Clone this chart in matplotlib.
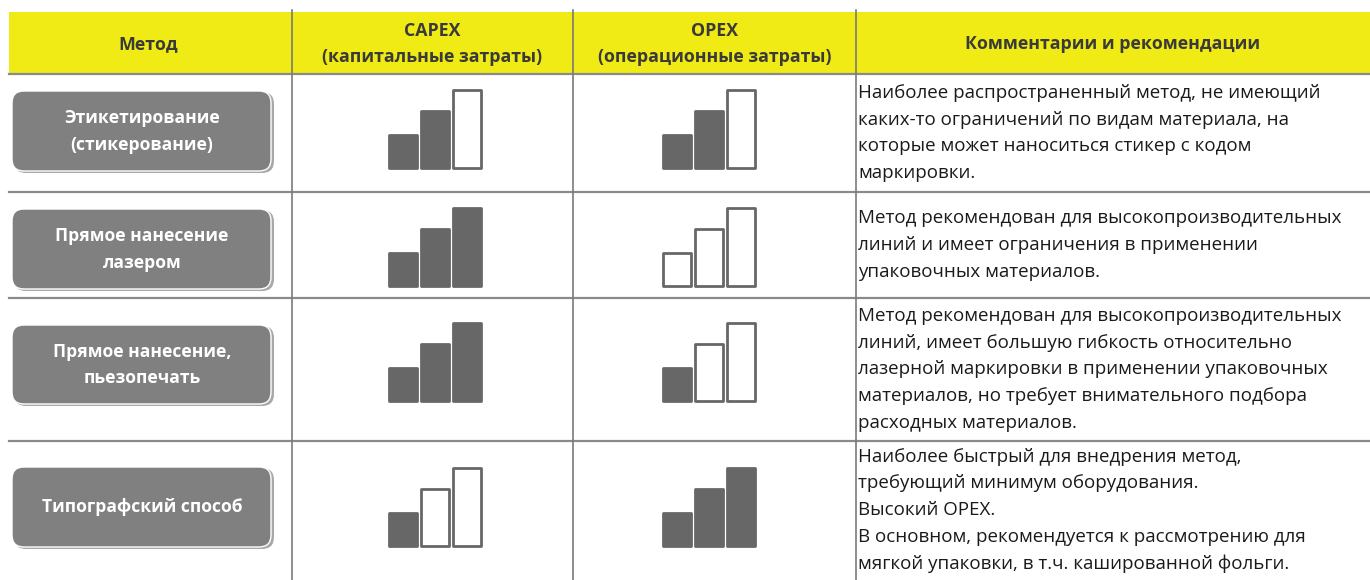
import matplotlib.pyplot as plt
from matplotlib.patches import FancyBboxPatch

# table content
header = ["Метод", "CAPEX\n(капитальные затраты)", "OPEX\n(операционные затраты)",
          "Комментарии и рекомендации"]
methods = ["Этикетирование\n(стикерование)", "Прямое нанесение\nлазером",
           "Прямое нанесение,\nпьезопечать", "Типографский способ"]
# number of filled bars out of 3 in each icon
capex_level = [2, 3, 3, 1]
opex_level = [2, 0, 1, 3]
comments = [
    "Наиболее распространенный метод, не имеющий\nкаких-то ограничений по видам материала, на\n"
    "которые может наноситься стикер с кодом\nмаркировки.",
    "Метод рекомендован для высокопроизводительных\nлиний и имеет ограничения в применении\n"
    "упаковочных материалов.",
    "Метод рекомендован для высокопроизводительных\nлиний, имеет большую гибкость относительно\n"
    "лазерной маркировки в применении упаковочных\nматериалов, но требует внимательного подбора\n"
    "расходных материалов.",
    "Наиболее быстрый для внедрения метод,\nтребующий минимум оборудования.\nВысокий OPEX.\n"
    "В основном, рекомендуется к рассмотрению для\nмягкой упаковки, в т.ч. кашированной фольги.",
]

# layout in pixels (y grows downwards)
W, H = 1370, 580
col_x = [9, 292, 573, 856, W]
row_y = [12, 74, 192, 298, 441, 580]
icon_h = [33, 57, 78]
bar_w = 30
dark = "#676767"

fig = plt.figure(figsize=(W / 100, H / 100), dpi=100)
ax = fig.add_axes([0, 0, 1, 1])
ax.set_xlim(0, W)
ax.set_ylim(H, 0)
ax.axis("off")

# yellow header
ax.add_patch(plt.Rectangle((col_x[0], row_y[0]), W - col_x[0], row_y[1] - row_y[0],
                           facecolor="#f0eb14", edgecolor="none", zorder=0))
for j, txt in enumerate(header):
    cx = (col_x[j] + col_x[j + 1]) / 2
    if j == 0:
        cx = 148
    ax.text(cx, (row_y[0] + row_y[1]) / 2 + 1, txt, ha="center", va="center",
            fontsize=12.8, fontweight="bold", color="#3a3a3a", family="Open Sans",
            linespacing=1.5)

# grid lines
for y in row_y[1:-1]:
    ax.plot([col_x[0], W], [y, y], color="#8a8a8a", lw=1.6, zorder=1)
for x in col_x[1:4]:
    ax.plot([x, x], [10, H], color="#7a7a7a", lw=1.2, zorder=1)


def icon(x0, base, level):
    xs = [x0 + k * (bar_w + 2) + bar_w / 2 for k in range(3)]
    for k in range(3):
        filled = k < level
        ax.bar(xs[k], -icon_h[k], width=bar_w - 2, bottom=base,
               color=dark if filled else "white", edgecolor=dark,
               linewidth=2.0, joinstyle="round", zorder=3)


for i in range(len(methods)):
    top, bot = row_y[i + 1], row_y[i + 2]
    # button
    by0 = top + 17 if i < 3 else top + 26
    by1 = by0 + 81
    if i == 2:
        by0, by1 = 325, 405
    ax.add_patch(FancyBboxPatch((14, by0 + 1), 260, by1 - by0, boxstyle="round,pad=0,rounding_size=12",
                                facecolor="#a8a8a8", edgecolor="none", zorder=2))
    ax.add_patch(FancyBboxPatch((12, by0), 259, by1 - by0 - 1, boxstyle="round,pad=0,rounding_size=12",
                                facecolor="#808080", edgecolor="white", lw=1.0, zorder=2))
    ax.text(142, (by0 + by1) / 2, methods[i], ha="center", va="center", fontsize=12.6,
            fontweight="bold", color="white", family="Open Sans", linespacing=1.6, zorder=4)

    base = by1 - 4 if i < 3 else by1 - 2
    icon(388, base, capex_level[i])
    icon(662, base, opex_level[i])

    ax.text(858, (top + bot) / 2, comments[i], ha="left", va="center", fontsize=13.5,
            color="#1a1a1a", family="Open Sans", linespacing=1.62)

fig.savefig("out.png", dpi=100)
